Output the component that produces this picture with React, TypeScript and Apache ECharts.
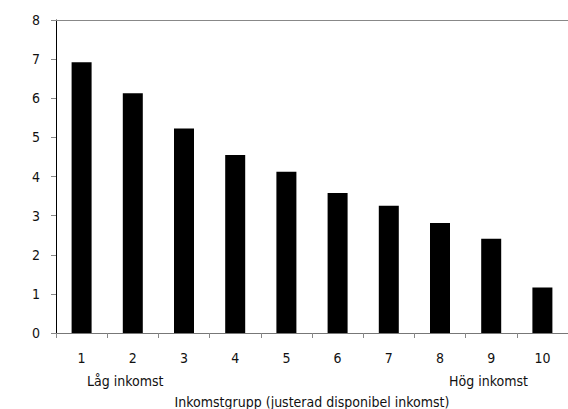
import React, { useEffect, useRef } from "react";
import * as echarts from "echarts";

const categories = ["1", "2", "3", "4", "5", "6", "7", "8", "9", "10"];
const values = [6.92, 6.13, 5.23, 4.55, 4.12, 3.58, 3.25, 2.81, 2.41, 1.16];
const yTicks = { min: 0, max: 8, interval: 1 };
const lowLabel = "Låg inkomst";
const highLabel = "Hög inkomst";
const axisTitle = "Inkomstgrupp (justerad disponibel inkomst)";

const FONT = "'DejaVu Sans Condensed', 'Liberation Sans Narrow', 'Roboto', sans-serif";

export default function App() {
  const ref = useRef<HTMLDivElement>(null);
  useEffect(() => {
    if (!ref.current) return;
    const chart = echarts.init(ref.current, null, { renderer: "svg" });
    chart.setOption({
      animation: false,
      backgroundColor: "#ffffff",
      textStyle: { fontFamily: FONT },
      grid: {
        left: 56,
        right: 0,
        top: 20,
        bottom: 76,
        containLabel: false,
        outerBoundsMode: "none",
      },
      xAxis: [
        {
          type: "category",
          data: categories,
          position: "bottom",
          axisLine: { show: true, lineStyle: { color: "#777", width: 1 } },
          axisTick: { show: true, length: 5, lineStyle: { color: "#888" } },
          axisLabel: { color: "#111", fontSize: 14, fontFamily: FONT, margin: 18 },
          name: axisTitle,
          nameLocation: "middle",
          nameGap: 62,
          nameTextStyle: { color: "#111", fontSize: 14, fontFamily: FONT },
        },
        {
          type: "category",
          data: categories,
          position: "top",
          axisLine: { show: true, lineStyle: { color: "#888", width: 1 } },
          axisTick: { show: false },
          axisLabel: { show: false },
        },
      ],
      yAxis: {
        type: "value",
        min: yTicks.min,
        max: yTicks.max,
        interval: yTicks.interval,
        axisLine: { show: true, lineStyle: { color: "#000", width: 1 } },
        axisTick: { show: true, length: 5, lineStyle: { color: "#888" } },
        splitLine: { show: false },
        axisLabel: { color: "#111", fontSize: 14, fontFamily: FONT, margin: 16 },
      },
      series: [
        {
          type: "bar",
          data: values,
          xAxisIndex: 0,
          barWidth: 20,
          itemStyle: { color: "#000" },
        },
      ],
      graphic: [
        {
          type: "text",
          left: 87,
          top: 374,
          style: { text: lowLabel, fill: "#111", font: `14px ${FONT}` },
        },
        {
          type: "text",
          left: 449,
          top: 374,
          style: { text: highLabel, fill: "#111", font: `14px ${FONT}` },
        },
      ],
    });
    return () => chart.dispose();
  }, []);
  return <div ref={ref} style={{ width: 568, height: 409, position: "absolute", left: 0, top: 0 }} />;
}
